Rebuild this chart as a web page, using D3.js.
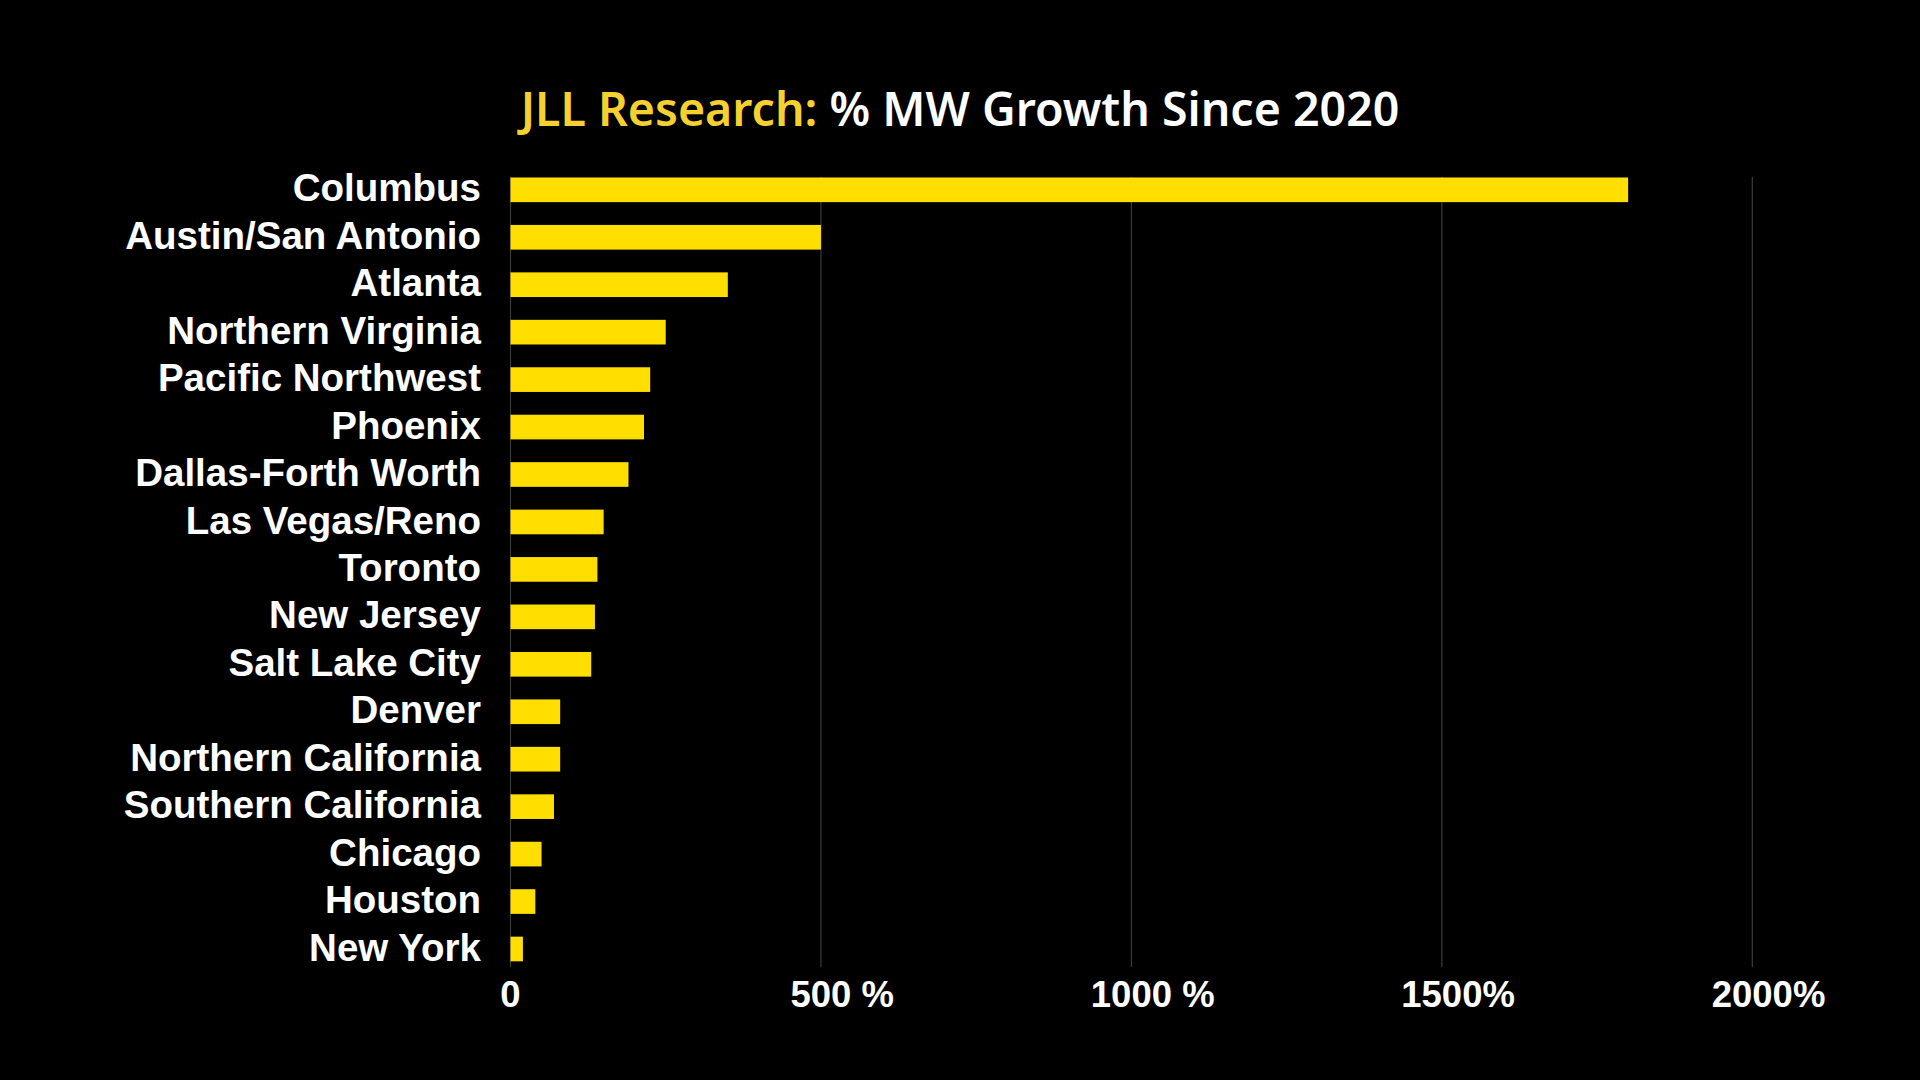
<!DOCTYPE html>
<html>
<head>
<meta charset="utf-8">
<script src="https://cdn.jsdelivr.net/npm/d3@7"></script>
<style>
  html, body { margin: 0; padding: 0; background: #000; }
</style>
</head>
<body>
<div id="chart"></div>
<script>
// data (% MW growth since 2020)
const markets = ["Columbus", "Austin/San Antonio", "Atlanta", "Northern Virginia",
  "Pacific Northwest", "Phoenix", "Dallas-Forth Worth", "Las Vegas/Reno", "Toronto",
  "New Jersey", "Salt Lake City", "Denver", "Northern California", "Southern California",
  "Chicago", "Houston", "New York"];
const growth = [1800, 500, 350, 250, 225, 215, 190, 150, 140, 136, 130, 80, 80, 70, 50, 40, 20];
const tickValues = [0, 500, 1000, 1500, 2000];
const tickNumbers = ["0", "500", "1000", "1500", "2000"];
const tickSuffix = ["", " %", " %", "%", "%"];

const width = 1920, height = 1080;
const barColor = "#FFDE00";
const titleYellow = "#F6D02E";

const svg = d3.select("#chart")
  .append("svg")
    .attr("width", width)
    .attr("height", height);

svg.append("rect")
  .attr("width", width)
  .attr("height", height)
  .attr("fill", "#000");

const x = d3.scaleLinear()
  .domain([0, 2000])
  .range([510.5, 1752.3]);

const y = d3.scaleBand()
  .domain(markets)
  .range([154.7, 984.1])
  .paddingInner(0.48)
  .paddingOuter(0.48);

// title
const title = svg.append("text")
  .attr("x", width / 2)
  .attr("y", 126)
  .attr("text-anchor", "middle")
  .style("font-family", "'Noto Sans', 'Open Sans', sans-serif")
  .style("font-weight", 600)
  .style("font-size", "46.5px");
title.append("tspan").attr("fill", titleYellow).text("JLL Research:");
title.append("tspan").attr("fill", "#fff").text(" % MW Growth Since 2020");

// vertical grid lines
svg.append("g")
  .selectAll("line")
  .data(tickValues)
  .enter()
  .append("line")
    .attr("x1", d => x(d))
    .attr("x2", d => x(d))
    .attr("y1", 177)
    .attr("y2", 967)
    .style("stroke", "#3a3a3a")
    .style("stroke-width", 1.2);

// bars
svg.append("g")
  .selectAll("rect")
  .data(markets)
  .enter()
  .append("rect")
    .attr("x", x(0))
    .attr("y", d => y(d))
    .attr("width", (d, i) => x(growth[i]) - x(0))
    .attr("height", y.bandwidth())
    .attr("fill", barColor);

// category labels
svg.append("g")
  .selectAll("text")
  .data(markets)
  .enter()
  .append("text")
    .attr("x", 481)
    .attr("y", d => y(d) + y.bandwidth() / 2)
    .attr("dy", "0.3em")
    .attr("text-anchor", "end")
    .attr("fill", "#fff")
    .style("font-family", "'Liberation Sans', Arial, sans-serif")
    .style("font-weight", "bold")
    .style("font-size", "38.5px")
    .text(d => d);

// x tick labels: the number is centred on the tick, the % trails after it
const tick = svg.append("g")
  .selectAll("text")
  .data(tickValues)
  .enter()
  .append("text")
    .attr("y", 1007)
    .attr("fill", "#fff")
    .style("font-family", "'Liberation Sans', Arial, sans-serif")
    .style("font-weight", "bold")
    .style("font-size", "36.5px");

tick.each(function(d, i) {
  const t = d3.select(this);
  const num = t.append("tspan").text(tickNumbers[i]);
  t.append("tspan").text(tickSuffix[i]);
  const w = num.node().getComputedTextLength();
  t.attr("x", x(d) - w / 2);
});
</script>
</body>
</html>
